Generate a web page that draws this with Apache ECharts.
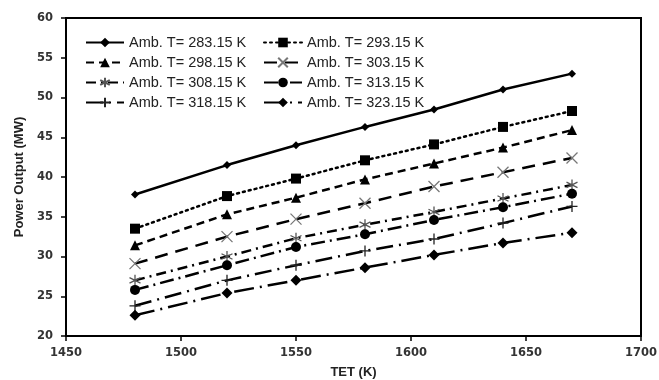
<!DOCTYPE html>
<html><head><meta charset="utf-8">
<script src="https://cdn.jsdelivr.net/npm/echarts@6/dist/echarts.min.js"></script>
<style>html,body{margin:0;padding:0;background:#fff}#c{width:659px;height:380px}</style>
</head><body><div id="c"></div>
<script>
const tet = [1480, 1520, 1550, 1580, 1610, 1640, 1670];
const names = ['Amb. T= 283.15 K','Amb. T= 293.15 K','Amb. T= 298.15 K','Amb. T= 303.15 K','Amb. T= 308.15 K','Amb. T= 313.15 K','Amb. T= 318.15 K','Amb. T= 323.15 K'];
const p283 = [37.8, 41.5, 44.0, 46.3, 48.5, 51.0, 53.0];
const p293 = [33.5, 37.6, 39.8, 42.1, 44.1, 46.3, 48.3];
const p298 = [31.4, 35.3, 37.4, 39.7, 41.7, 43.7, 45.9];
const p303 = [29.1, 32.5, 34.7, 36.7, 38.8, 40.6, 42.4];
const p308 = [27.0, 30.0, 32.3, 34.0, 35.6, 37.3, 39.0];
const p313 = [25.8, 28.9, 31.2, 32.8, 34.6, 36.2, 37.9];
const p318 = [23.8, 27.0, 28.9, 30.7, 32.2, 34.2, 36.3];
const p323 = [22.6, 25.4, 27.0, 28.6, 30.2, 31.7, 33.0];
const values = [p283, p293, p298, p303, p308, p313, p318, p323];

const X_PATH = 'path://M0,0L10,10M10,0L0,10';
const AST_PATH = 'path://M5,0L5,10M0.7,2.5L9.3,7.5M0.7,7.5L9.3,2.5';
const PLUS_PATH = 'path://M5,0L5,10M0,5L10,5';
const styles = [
  {dash: 'solid', sym: 'diamond', size: 8, stroke: false},
  {dash: [2, 4], sym: 'rect', size: 10, stroke: false, cap: 'round'},
  {dash: [8, 5], sym: 'triangle', size: 10, stroke: false},
  {dash: [13, 8], sym: X_PATH, size: 11, stroke: true, col: '#777'},
  {dash: [10, 5, 2, 5], sym: AST_PATH, size: 11, stroke: true, col: '#555'},
  {dash: [14, 5, 2, 5], sym: 'circle', size: 10, stroke: false},
  {dash: [17, 6, 2, 6], sym: PLUS_PATH, size: 11, stroke: true, col: '#222'},
  {dash: [20, 6, 2, 6], sym: 'diamond', size: 11, stroke: false}
];

const series = names.map((n, i) => {
  const s = styles[i];
  return {
    name: n, type: 'line',
    data: tet.map((x, j) => [x, values[i][j]]),
    symbol: s.sym, symbolSize: s.size,
    lineStyle: {color: '#000', width: 2.5, type: s.dash, cap: s.cap || 'butt'},
    itemStyle: s.stroke ? {color: 'rgba(0,0,0,0)', borderColor: s.col, borderWidth: 1.3} : {color: '#000', borderWidth: 0},
    emphasis: {disabled: true},
    animation: false
  };
});

const font = '"Liberation Sans", Arial, sans-serif';
const tickFont = '"DejaVu Sans", sans-serif';
const legendBase = {
  orient: 'vertical', itemWidth: 38, itemHeight: 12, itemGap: 5, padding: 0,
  textStyle: {fontFamily: font, fontSize: 14.5, color: '#222'},
  selectedMode: false
};
const chart = echarts.init(document.getElementById('c'), null, {renderer: 'canvas'});
chart.setOption({
  backgroundColor: '#fff',
  animation: false,
  grid: {left: 66, right: 18, top: 18, bottom: 44, show: true, borderColor: '#000', borderWidth: 2,
         backgroundColor: 'transparent', containLabel: false, outerBoundsMode: 'none'},
  legend: [
    Object.assign({}, legendBase, {left: 85, top: 35, data: [names[0], names[2], names[4], names[6]]}),
    Object.assign({}, legendBase, {left: 263, top: 35, data: [names[1], names[3], names[5], names[7]]})
  ],
  xAxis: {
    type: 'value', min: 1450, max: 1700, interval: 50,
    name: 'TET (K)', nameLocation: 'middle', nameGap: 30,
    nameTextStyle: {fontFamily: font, fontWeight: 'bold', fontSize: 13, color: '#222'},
    axisLine: {show: true, lineStyle: {color: '#000', width: 2}},
    axisTick: {show: true, length: 5, lineStyle: {color: '#000', width: 1.5}},
    axisLabel: {fontFamily: tickFont, fontWeight: 'bold', fontSize: 11.5, color: '#333', margin: 11,
                formatter: v => String(v)},
    splitLine: {show: false}
  },
  yAxis: {
    type: 'value', min: 20, max: 60, interval: 5,
    name: 'Power Output (MW)', nameLocation: 'middle', nameGap: 36, nameRotate: 90,
    nameTextStyle: {fontFamily: font, fontWeight: 'bold', fontSize: 13, color: '#222'},
    axisLine: {show: true, lineStyle: {color: '#000', width: 2}},
    axisTick: {show: true, length: 5, lineStyle: {color: '#000', width: 1.5}},
    axisLabel: {fontFamily: tickFont, fontWeight: 'bold', fontSize: 11.5, color: '#333', margin: 13},
    splitLine: {show: false}
  },
  series: series
});
</script></body></html>
